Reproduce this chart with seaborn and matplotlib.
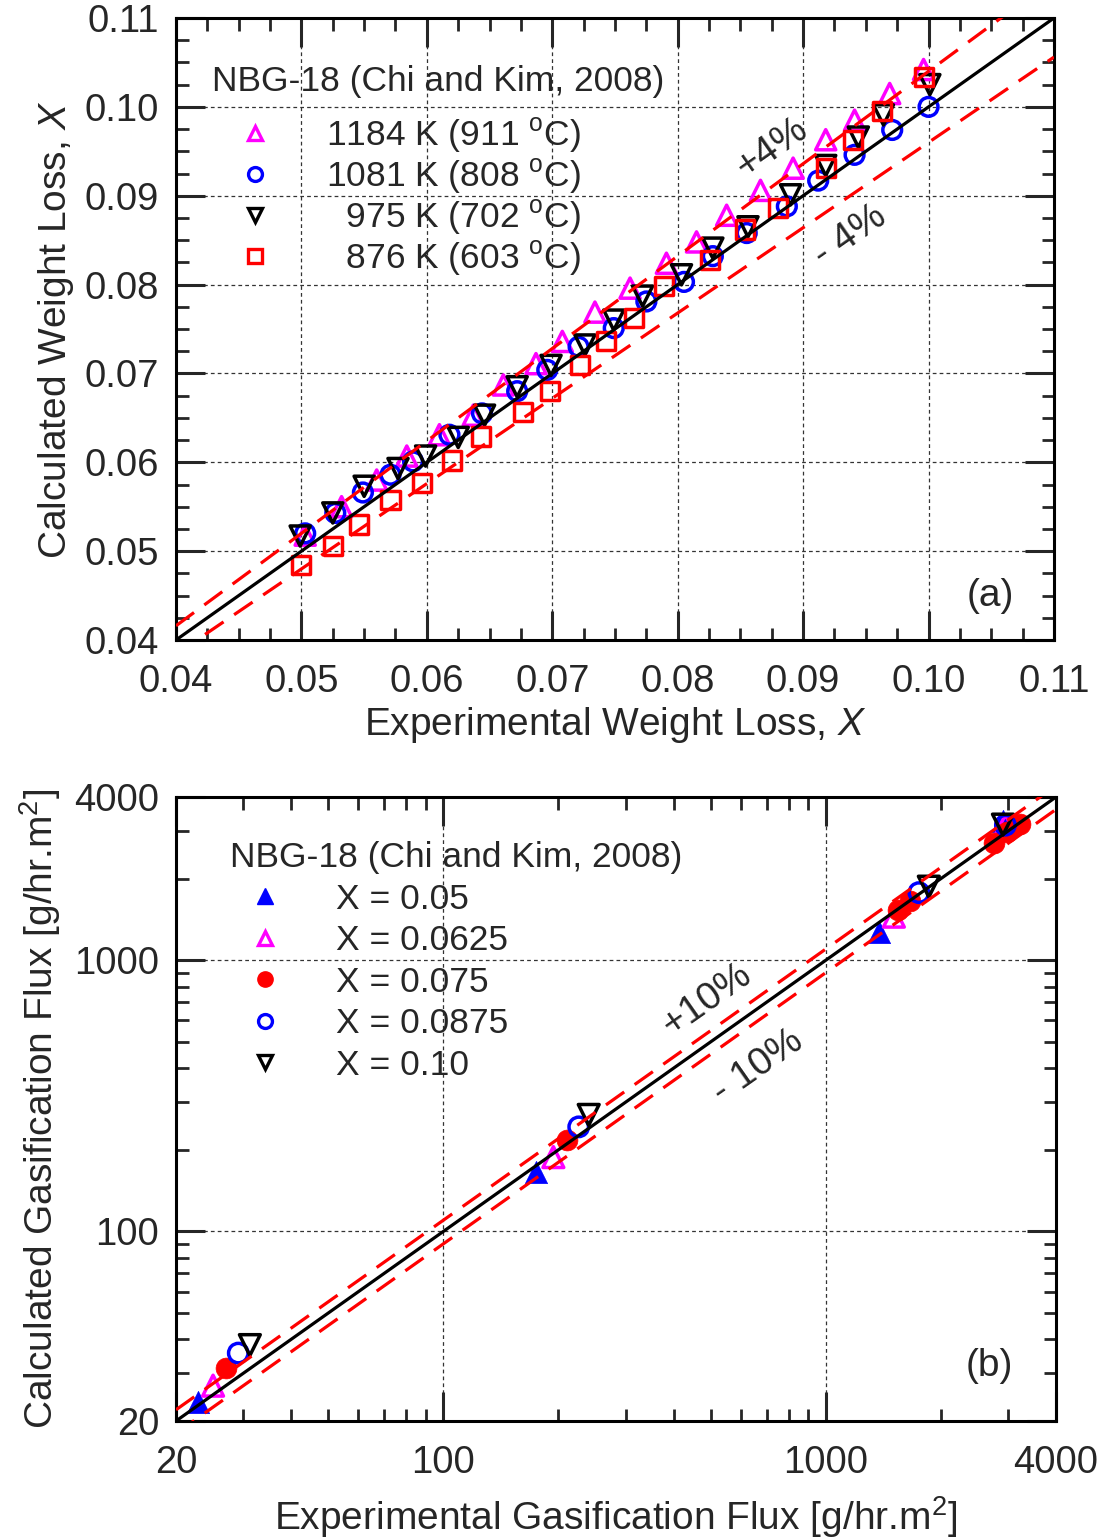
import numpy as np
import pandas as pd
import matplotlib
matplotlib.use("Agg")
import matplotlib.pyplot as plt
import seaborn as sns
from matplotlib.lines import Line2D
from matplotlib.ticker import MultipleLocator, FixedLocator, FixedFormatter, LogLocator, NullFormatter, FormatStrFormatter

# ---------------- data: panel (a) ----------------
exp_1184 = [0.0503,0.0532,0.0560,0.0584,0.0610,0.0637,0.0661,0.0687,0.0708,0.0734,0.0762,0.0791,0.0815,0.0839,0.0866,0.0892,0.0918,0.0941,0.0969,0.0996]
calc_1184 = [0.0518,0.0550,0.0580,0.0607,0.0631,0.0653,0.0687,0.0711,0.0736,0.0769,0.0796,0.0824,0.0848,0.0878,0.0906,0.0931,0.0963,0.0985,0.1015,0.1042]
exp_1081 = [0.0503,0.0527,0.0549,0.0571,0.0589,0.0618,0.0644,0.0672,0.0696,0.0721,0.0749,0.0775,0.0805,0.0828,0.0855,0.0887,0.0912,0.0941,0.0971,0.1000]
calc_1081 = [0.0520,0.0543,0.0566,0.0586,0.0601,0.0631,0.0655,0.0680,0.0704,0.0730,0.0751,0.0781,0.0803,0.0832,0.0858,0.0888,0.0917,0.0946,0.0974,0.1000]
exp_975 = [0.0499,0.0525,0.0550,0.0577,0.0599,0.0625,0.0646,0.0672,0.0699,0.0726,0.0749,0.0772,0.0803,0.0828,0.0856,0.0890,0.0918,0.0944,0.0964,0.1001]
calc_975 = [0.0517,0.0543,0.0573,0.0593,0.0607,0.0628,0.0653,0.0685,0.0709,0.0732,0.0760,0.0787,0.0811,0.0841,0.0865,0.0901,0.0934,0.0966,0.0991,0.1025]
exp_876 = [0.0500,0.0525,0.0546,0.0571,0.0596,0.0620,0.0643,0.0677,0.0698,0.0722,0.0743,0.0765,0.0789,0.0826,0.0854,0.0880,0.0918,0.0940,0.0963,0.0996]
calc_876 = [0.0484,0.0506,0.0530,0.0558,0.0577,0.0602,0.0629,0.0657,0.0680,0.0709,0.0736,0.0762,0.0798,0.0828,0.0862,0.0886,0.0931,0.0963,0.0995,0.1034]
labels_a = ["1184 K (911 $^{\\rm o}$C)", "1081 K (808 $^{\\rm o}$C)",
            "  975 K (702 $^{\\rm o}$C)", "  876 K (603 $^{\\rm o}$C)"]

# ---------------- data: panel (b) ----------------
exp_x050 = [22.8, 175, 1376, 2900]
calc_x050 = [23.5, 166, 1275, 3250]
exp_x0625 = [25.0, 194, 1507, 2950]
calc_x0625 = [27.0, 188, 1448, 3150]
exp_x075 = [27.0, 211, 1544, 1660, 2752, 2978, 3220]
calc_x075 = [31.4, 218, 1536, 1650, 2716, 2980, 3192]
exp_x0875 = [29.1, 226, 1752, 2950]
calc_x0875 = [35.6, 243, 1776, 3150]
exp_x100 = [31.2, 240, 1860, 2906]
calc_x100 = [38.1, 269, 1868, 3164]
labels_b = ["X = 0.05", "X = 0.0625", "X = 0.075", "X = 0.0875", "X = 0.10"]
legend_title = "NBG-18 (Chi and Kim, 2008)"

# ---------------- style ----------------
sns.set_style("ticks")
plt.rcParams['font.family'] = ['Liberation Sans', 'DejaVu Sans']
plt.rcParams['mathtext.fontset'] = 'custom'
plt.rcParams['mathtext.rm'] = 'Liberation Sans'
plt.rcParams['mathtext.it'] = 'Liberation Sans:italic'
plt.rcParams['mathtext.default'] = 'regular'

FS = 28
TFS = 27.5
LFS = 25.5
MAG, BLU, BLK, RED = '#FF00FF', '#0000FF', '#000000', '#FF0000'

fig = plt.figure(figsize=(11.05, 15.4), dpi=100)
axA = fig.add_axes([176/1105, 1-640/1540, 878/1105, 622/1540])
axB = fig.add_axes([176/1105, 1-1421/1540, 880/1105, 624/1540])

def style_axis(ax):
    for s in ax.spines.values():
        s.set_linewidth(2.2)
        s.set_color('black')
    ax.tick_params(which='major', direction='in', length=21, width=2.2,
                   top=True, right=True, labelsize=TFS)
    ax.tick_params(axis='x', which='major', pad=17)
    ax.tick_params(axis='y', which='major', pad=12)
    ax.tick_params(which='minor', direction='in', length=9, width=2.0,
                   top=True, right=True)
    ax.grid(which='major', linestyle=(0, (3, 2.5)), linewidth=0.9, color='#333333')
    ax.set_axisbelow(True)

def open_pts(ax, x, y, marker, color, size, lw=2.5):
    sns.scatterplot(x=x, y=y, ax=ax, marker=marker, s=size**2, color=color,
                    facecolor='none', edgecolor=color, linewidth=lw, zorder=3)

def filled_pts(ax, x, y, marker, color, size):
    sns.scatterplot(x=x, y=y, ax=ax, marker=marker, s=size**2, color=color,
                    edgecolor=color, linewidth=0.5, zorder=3)

def ref_line(ax, x, y, color, dashed):
    sns.lineplot(x=x, y=y, ax=ax, color=color, linewidth=2.3, zorder=4)
    if dashed:
        ax.lines[-1].set_dashes((7, 4))

# ---------------- panel (a) ----------------
open_pts(axA, exp_1184, calc_1184, '^', MAG, 14.5)
open_pts(axA, exp_1081, calc_1081, 'o', BLU, 13.5)
open_pts(axA, exp_975, calc_975, 'v', BLK, 14.5)
open_pts(axA, exp_876, calc_876, 's', RED, 13)

line_a = np.array([0.04, 0.11])
ref_line(axA, line_a, line_a, 'black', False)
ref_line(axA, line_a, 1.04*line_a, RED, True)
ref_line(axA, line_a, 0.96*line_a, RED, True)

axA.set_xlim(0.04, 0.11)
axA.set_ylim(0.04, 0.11)
axA.xaxis.set_major_locator(MultipleLocator(0.01))
axA.yaxis.set_major_locator(MultipleLocator(0.01))
axA.xaxis.set_minor_locator(MultipleLocator(0.0025))
axA.yaxis.set_minor_locator(MultipleLocator(0.0025))
axA.xaxis.set_major_formatter(FormatStrFormatter('%.2f'))
axA.yaxis.set_major_formatter(FormatStrFormatter('%.2f'))
style_axis(axA)
axA.set_xlabel("Experimental Weight Loss, $\\mathit{X}$", fontsize=FS, labelpad=4)
axA.set_ylabel("Calculated Weight Loss, $\\mathit{X}$", fontsize=FS, labelpad=6)

axA.text(0.0875, 0.0954, "+4%", fontsize=FS, rotation=35, ha='center', va='center', rotation_mode='anchor')
axA.text(0.0937, 0.0855, "- 4%", fontsize=FS, rotation=35, ha='center', va='center', rotation_mode='anchor')
axA.text(0.1049, 0.0450, "(a)", fontsize=FS, ha='center', va='center')

axA.text((212-176)/878, (640-82)/622, legend_title, fontsize=LFS, ha='left', va='center',
         transform=axA.transAxes)
hA = [Line2D([], [], linestyle='none', marker='^', markersize=10.5, markerfacecolor='none', markeredgecolor=MAG, markeredgewidth=2.4),
      Line2D([], [], linestyle='none', marker='o', markersize=10, markerfacecolor='none', markeredgecolor=BLU, markeredgewidth=2.4),
      Line2D([], [], linestyle='none', marker='v', markersize=10.5, markerfacecolor='none', markeredgecolor=BLK, markeredgewidth=2.4),
      Line2D([], [], linestyle='none', marker='s', markersize=10, markerfacecolor='none', markeredgecolor=RED, markeredgewidth=2.4)]
legA = axA.legend(hA, labels_a, loc='upper left', bbox_to_anchor=(0.0255, 0.877),
                  frameon=False, fontsize=LFS,
                  handlelength=2.0, handletextpad=1.0, labelspacing=0.06, borderpad=0.1)

# ---------------- panel (b) ----------------
filled_pts(axB, exp_x050, calc_x050, '^', BLU, 16)
open_pts(axB, exp_x0625, calc_x0625, '^', MAG, 15)
filled_pts(axB, exp_x075, calc_x075, 'o', RED, 15)
open_pts(axB, exp_x0875, calc_x0875, 'o', BLU, 14)
open_pts(axB, exp_x100, calc_x100, 'v', BLK, 15)

line_b = np.array([20.0, 4000.0])
ref_line(axB, line_b, line_b, 'black', False)
ref_line(axB, line_b, 1.1*line_b, RED, True)
ref_line(axB, line_b, 0.9*line_b, RED, True)

axB.set_xscale('log')
axB.set_yscale('log')
axB.set_xlim(20, 4000)
axB.set_ylim(20, 4000)
for axis in (axB.xaxis, axB.yaxis):
    axis.set_major_locator(FixedLocator([20, 100, 1000, 4000]))
    axis.set_major_formatter(FixedFormatter(["20", "100", "1000", "4000"]))
    axis.set_minor_locator(LogLocator(base=10, subs=np.arange(2, 10)))
    axis.set_minor_formatter(NullFormatter())
style_axis(axB)
axB.set_xlabel("Experimental Gasification Flux [g/hr.m$^2$]", fontsize=FS, labelpad=10)
axB.set_ylabel("Calculated Gasification Flux [g/hr.m$^2$]", fontsize=FS, labelpad=8)

axB.text(488, 715, "+10%", fontsize=FS, rotation=35, ha='center', va='center', rotation_mode='anchor')
axB.text(664, 405, "- 10%", fontsize=FS, rotation=35, ha='center', va='center', rotation_mode='anchor')
axB.text(2672, 31.9, "(b)", fontsize=FS, ha='center', va='center')

axB.text((230-176)/880, (1421-857)/624, legend_title, fontsize=LFS, ha='left', va='center',
         transform=axB.transAxes)
hB = [Line2D([], [], linestyle='none', marker='^', markersize=11, markerfacecolor=BLU, markeredgecolor=BLU),
      Line2D([], [], linestyle='none', marker='^', markersize=10.5, markerfacecolor='none', markeredgecolor=MAG, markeredgewidth=2.4),
      Line2D([], [], linestyle='none', marker='o', markersize=11, markerfacecolor=RED, markeredgecolor=RED),
      Line2D([], [], linestyle='none', marker='o', markersize=10, markerfacecolor='none', markeredgecolor=BLU, markeredgewidth=2.4),
      Line2D([], [], linestyle='none', marker='v', markersize=10.5, markerfacecolor='none', markeredgecolor=BLK, markeredgewidth=2.4)]
legB = axB.legend(hB, labels_b, loc='upper left', bbox_to_anchor=(0.0365, 0.897),
                  frameon=False, fontsize=LFS,
                  handlelength=2.0, handletextpad=1.0, labelspacing=0.24, borderpad=0.1)

fig.savefig("out.png", dpi=100)
